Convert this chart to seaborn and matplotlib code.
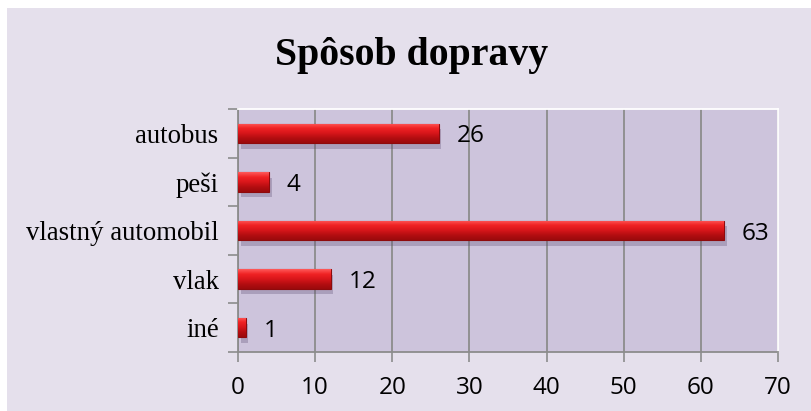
import numpy as np
import pandas as pd
import matplotlib
matplotlib.use("Agg")
import matplotlib.pyplot as plt
import matplotlib.patheffects as pe
from matplotlib.colors import LinearSegmentedColormap
from matplotlib.patches import Rectangle
import seaborn as sns

categories = ["autobus", "peši", "vlastný automobil", "vlak", "iné"]
values = [26, 4, 63, 12, 1]
x_ticks = [0, 10, 20, 30, 40, 50, 60, 70]
title = "Spôsob dopravy"

sns.set_theme(style="white")
plt.rcParams["font.family"] = ["DejaVu Sans"]
plt.rcParams["text.color"] = "black"
plt.rcParams["xtick.color"] = "black"
plt.rcParams["ytick.color"] = "black"

df = pd.DataFrame({"kategoria": categories, "pocet": values})

fig = plt.figure(figsize=(8.11, 4.11), dpi=100)
fig.patch.set_facecolor("white")
bg = Rectangle((7 / 811, 0), 1, 1 - 8 / 411, transform=fig.transFigure,
               facecolor="#E5E0EC", edgecolor="none", zorder=-10)
fig.patches.append(bg)

ax = fig.add_axes([238 / 811, 59 / 411, 540 / 811, 243 / 411])
ax.set_zorder(1)
ax.set_facecolor("#CDC4DC")

sns.barplot(data=df, x="pocet", y="kategoria", orient="h", ax=ax, width=0.4,
            color="#E01A1D", edgecolor="#8E0A0C", linewidth=0.8, saturation=1, zorder=3)

grad_cmap = LinearSegmentedColormap.from_list(
    "bar", ["#FF5A5A", "#F02224", "#D8161A", "#B40E11", "#9A0A0C"])
grad = np.linspace(0, 1, 64).reshape(-1, 1)
for p in list(ax.patches):
    p.set_path_effects([pe.SimplePatchShadow(offset=(2, -4), shadow_rgbFace="#5a4a70", alpha=0.3),
                        pe.Normal()])
    x0, y0 = p.get_x(), p.get_y()
    w, h = p.get_width(), p.get_height()
    im = ax.imshow(grad, cmap=grad_cmap, aspect="auto", extent=(x0, x0 + w, y0, y0 + h),
                   origin="lower", zorder=4, interpolation="bilinear")
    im.set_clip_path(p)

ax.set_xlim(0, 70)
ax.set_ylim(4.5, -0.5)
ax.set_xticks(x_ticks)
ax.set_xticklabels([str(t) for t in x_ticks], fontsize=17.5, family="Open Sans")
ax.set_yticks(range(len(categories)))
ax.set_yticklabels(categories, fontsize=19.3, family="Liberation Serif")
ax.set_yticks(np.arange(-0.5, len(categories), 1.0), minor=True)
ax.tick_params(axis="y", which="major", length=0, pad=14)
ax.tick_params(axis="y", which="minor", length=7, width=1.2, color="#8C8C8C", direction="out", left=True)
ax.tick_params(axis="x", which="major", length=7, width=1.2, color="#8C8C8C", direction="out",
               bottom=True, pad=10)
ax.set_xlabel("")
ax.set_ylabel("")

ax.grid(axis="x", color="#8C8C8C", linewidth=1.3, zorder=1)
ax.set_axisbelow(True)
for s in ["left", "bottom"]:
    ax.spines[s].set_color("#8C8C8C")
    ax.spines[s].set_linewidth(1.3)
for s in ["top", "right"]:
    ax.spines[s].set_color("white")
    ax.spines[s].set_linewidth(1.3)

for i, v in enumerate(values):
    ax.annotate(str(v), xy=(v, i), xytext=(18, -3), textcoords="offset pixels",
                ha="left", va="center", fontsize=17.5, family="Open Sans", color="black")

fig.text(412 / 811, 1 - 55 / 411, title, ha="center", va="center", fontsize=28.6,
         fontweight="bold", family="Liberation Serif", color="black")

fig.savefig("out.png", dpi=100)
